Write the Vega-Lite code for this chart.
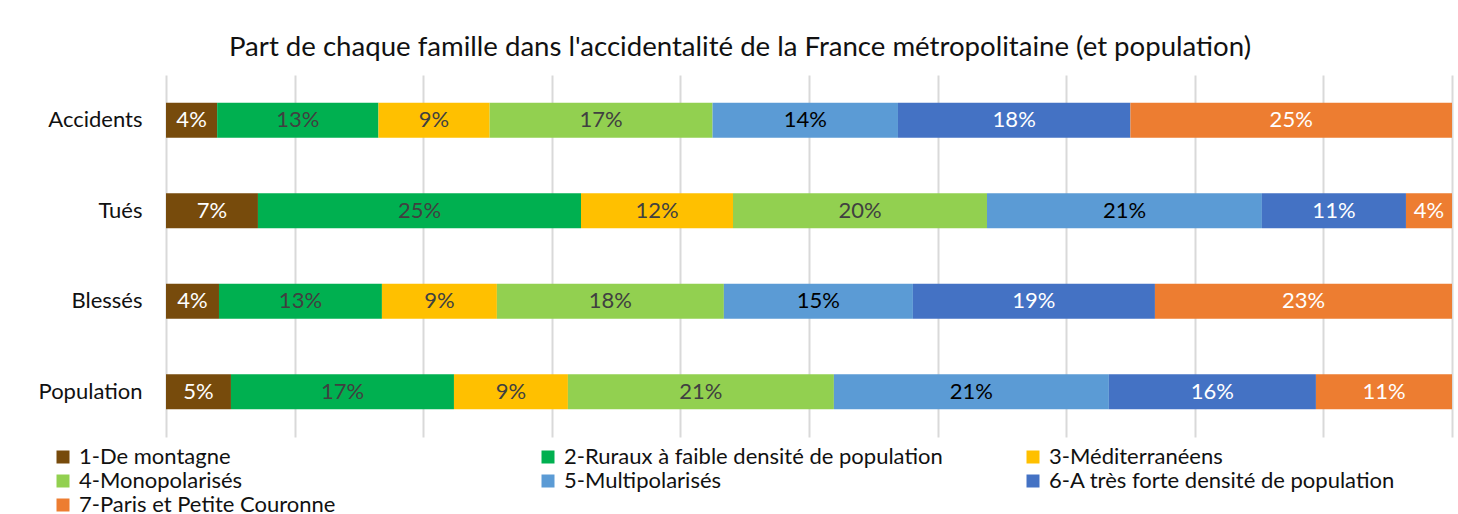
{
  "$schema": "https://vega.github.io/schema/vega-lite/v6.json",
  "width": 1286,
  "height": 362,
  "autosize": {"type": "none"},
  "padding": {"left": 166, "top": 75, "right": 6, "bottom": 77},
  "background": "white",
  "title": {
    "text": "Part de chaque famille dans l'accidentalité de la France métropolitaine (et population)",
    "font": "Lato",
    "fontSize": 27.6,
    "fontWeight": "normal",
    "color": "#111111",
    "anchor": "middle",
    "frame": "bounds",
    "offset": 13,
    "dx": -5
  },
  "data": {
    "values": [
      {"cat": "Accidents", "famille": "1-De montagne", "part": 0.0397},
      {"cat": "Accidents", "famille": "2-Ruraux à faible densité de population", "part": 0.1252},
      {"cat": "Accidents", "famille": "3-Méditerranéens", "part": 0.0863},
      {"cat": "Accidents", "famille": "4-Monopolarisés", "part": 0.173},
      {"cat": "Accidents", "famille": "5-Multipolarisés", "part": 0.1439},
      {"cat": "Accidents", "famille": "6-A très forte densité de population", "part": 0.1804},
      {"cat": "Accidents", "famille": "7-Paris et Petite Couronne", "part": 0.2496},
      {"cat": "Tués", "famille": "1-De montagne", "part": 0.0715},
      {"cat": "Tués", "famille": "2-Ruraux à faible densité de population", "part": 0.2512},
      {"cat": "Tués", "famille": "3-Méditerranéens", "part": 0.1182},
      {"cat": "Tués", "famille": "4-Monopolarisés", "part": 0.1975},
      {"cat": "Tués", "famille": "5-Multipolarisés", "part": 0.2138},
      {"cat": "Tués", "famille": "6-A très forte densité de population", "part": 0.112},
      {"cat": "Tués", "famille": "7-Paris et Petite Couronne", "part": 0.0358},
      {"cat": "Blessés", "famille": "1-De montagne", "part": 0.0412},
      {"cat": "Blessés", "famille": "2-Ruraux à faible densité de population", "part": 0.1267},
      {"cat": "Blessés", "famille": "3-Méditerranéens", "part": 0.0894},
      {"cat": "Blessés", "famille": "4-Monopolarisés", "part": 0.1765},
      {"cat": "Blessés", "famille": "5-Multipolarisés", "part": 0.147},
      {"cat": "Blessés", "famille": "6-A très forte densité de population", "part": 0.1882},
      {"cat": "Blessés", "famille": "7-Paris et Petite Couronne", "part": 0.231},
      {"cat": "Population", "famille": "1-De montagne", "part": 0.0505},
      {"cat": "Population", "famille": "2-Ruraux à faible densité de population", "part": 0.1734},
      {"cat": "Population", "famille": "3-Méditerranéens", "part": 0.0886},
      {"cat": "Population", "famille": "4-Monopolarisés", "part": 0.2068},
      {"cat": "Population", "famille": "5-Multipolarisés", "part": 0.2138},
      {"cat": "Population", "famille": "6-A très forte densité de population", "part": 0.161},
      {"cat": "Population", "famille": "7-Paris et Petite Couronne", "part": 0.1058}
    ]
  },
  "transform": [
    {"stack": "part", "groupby": ["cat"], "sort": [{"field": "famille", "order": "ascending"}], "as": ["x0", "x1"], "offset": "normalize"},
    {"calculate": "(datum.x0 + datum.x1) / 2", "as": "xmid"}
  ],
  "encoding": {
    "y": {
      "field": "cat",
      "type": "nominal",
      "sort": ["Accidents", "Tués", "Blessés", "Population"],
      "scale": {"paddingInner": 0.613, "paddingOuter": 0.307},
      "axis": {
        "title": null,
        "domain": false,
        "ticks": false,
        "labelFont": "Lato",
        "labelFontSize": 22,
        "labelColor": "#111111",
        "labelPadding": 24
      }
    }
  },
  "layer": [
    {
      "mark": {"type": "bar"},
      "encoding": {
        "x": {
          "field": "x0",
          "type": "quantitative",
          "scale": {"domain": [0, 1], "nice": false},
          "axis": {
            "title": null,
            "labels": false,
            "ticks": false,
            "domain": false,
            "grid": true,
            "values": [0, 0.1, 0.2, 0.3, 0.4, 0.5, 0.6, 0.7, 0.8, 0.9, 1],
            "gridColor": "#d9d9d9",
            "gridWidth": 2
          }
        },
        "x2": {"field": "x1"},
        "color": {
          "field": "famille",
          "type": "nominal",
          "scale": {
            "domain": ["1-De montagne", "2-Ruraux à faible densité de population", "3-Méditerranéens", "4-Monopolarisés", "5-Multipolarisés", "6-A très forte densité de population", "7-Paris et Petite Couronne"],
            "range": ["#774B0C", "#00B050", "#FFC000", "#92D050", "#5B9BD5", "#4472C4", "#ED7D31"]
          },
          "legend": {
            "title": null,
            "orient": "none",
            "direction": "horizontal",
            "legendX": -114,
            "legendY": 371,
            "columns": 3,
            "gridAlign": "all",
            "columnPadding": 79,
            "rowPadding": 2,
            "padding": 0,
            "symbolType": "square",
            "symbolSize": 169,
            "symbolStrokeWidth": 0,
            "labelFont": "Lato",
            "labelFontSize": 22,
            "labelColor": "#111111",
            "labelOffset": 5,
            "labelLimit": 600
          }
        }
      }
    },
    {
      "mark": {"type": "text", "font": "Lato", "fontSize": 22},
      "encoding": {
        "x": {"field": "xmid", "type": "quantitative"},
        "text": {"field": "part", "type": "quantitative", "format": ".0%"},
        "color": {
          "condition": [
            {"test": "datum.famille === '1-De montagne' || datum.famille === '6-A très forte densité de population' || datum.famille === '7-Paris et Petite Couronne'", "value": "white"},
            {"test": "datum.famille === '5-Multipolarisés'", "value": "black"}
          ],
          "value": "#404040"
        }
      }
    }
  ],
  "config": {"view": {"stroke": null}}
}
